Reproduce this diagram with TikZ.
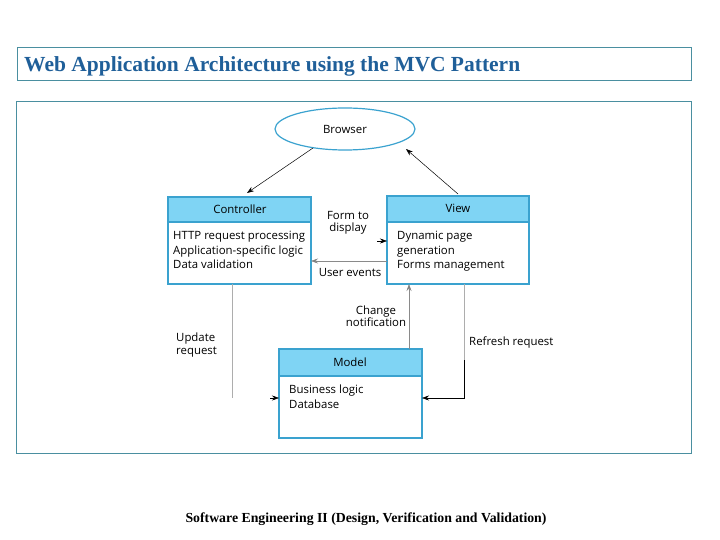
\documentclass[tikz,border=0pt]{standalone}
\usepackage{fontspec}
\setmainfont{Liberation Serif}
\newfontfamily\diagfont{Open Sans}
\usetikzlibrary{arrows.meta,shapes.geometric}
\definecolor{framecol}{HTML}{4A8FA0}
\definecolor{titlecol}{HTML}{1F5F99}
\definecolor{boxborder}{HTML}{3AA2CF}
\definecolor{headfill}{HTML}{7FD4F4}
\definecolor{linegray}{HTML}{8A8A8A}
\tikzset{
  frame/.style={draw=framecol, line width=0.8pt},
  boxbody/.style={draw=boxborder, line width=1.2pt, fill=white},
  boxhead/.style={draw=boxborder, line width=1.2pt, fill=headfill},
  headtext/.style={font=\diagfont\fontsize{11.4}{13}\selectfont, anchor=center},
  bodytext/.style={font=\diagfont\fontsize{11.4}{14.5}\selectfont, anchor=north west, align=left, inner sep=0pt},
  lbl/.style={font=\diagfont\fontsize{11.4}{12.5}\selectfont, align=center, inner sep=0pt},
  conn/.style={draw=black, line width=0.5pt, -{Stealth[length=7pt,width=5pt]}},
  gconn/.style={draw=linegray, line width=0.8pt, -{Stealth[length=7pt,width=5pt,fill=black]}},
  lconn/.style={draw=linegray!70, line width=0.6pt},
}
\begin{document}
\begin{tikzpicture}[x=1pt,y=-1pt]
\useasboundingbox (0,0) rectangle (720,540);
% title
\draw[frame] (17,47) rectangle (691,80);
\node[anchor=west, inner sep=0pt, text=titlecol, font=\bfseries\fontsize{21.5}{23}\selectfont] (title) at (24,66) {Web Application Architecture using the MVC Pattern};
% diagram frame
\draw[frame] (16,101) rectangle (691,453);
% browser
\node[ellipse, draw=boxborder, line width=1.2pt, minimum width=140pt, minimum height=42pt, font=\diagfont\fontsize{11.4}{13}\selectfont] (browser) at (345,129) {Browser};
% controller
\draw[boxbody] (168,197) rectangle (311,284);
\draw[boxhead] (168,197) rectangle (311,222);
\node[headtext] (ctrlh) at (240,209) {Controller};
\node[bodytext] (ctrlb) at (173,231) {HTTP request processing\\Application-specific logic\\Data validation};
\coordinate (ctrlE) at (311,261);
\coordinate (ctrlS) at (232,284);
\coordinate (ctrlT) at (247,193);
% view
\draw[boxbody] (387,196) rectangle (529,284);
\draw[boxhead] (387,196) rectangle (529,222);
\node[headtext] (viewh) at (458,208) {View};
\node[bodytext] (viewb) at (397,231) {Dynamic page\\generation\\Forms management};
\coordinate (viewW) at (387,261);
\coordinate (viewWa) at (387,241);
% model
\draw[boxbody] (279,349) rectangle (422,438);
\draw[boxhead] (279,349) rectangle (422,376);
\node[headtext] (modelh) at (350,362) {Model};
\node[bodytext] (modelb) at (289,385) {Business logic\\Database};
% connectors
\draw[conn] (313,148) -- (ctrlT);
\draw[conn] (458,194) -- (406,149);
\draw[gconn] (viewW) -- (ctrlE);
\draw[conn] (377,241) -- (viewWa);
\draw[lconn] (ctrlS) -- (232,398);
\draw[conn] (270,398) -- (279,398);
\draw[gconn] (409,349) -- (409,284);
\draw[lconn] (464,284) -- (464,360);
\draw[conn] (464,360) -- (464,398) -- (422,398);
% labels
\node[lbl] (l1) at (348,223) {Form to\\display};
\node[lbl] (l2) at (350,272) {User events};
\node[lbl] (l3) at (376,316) {Change\\notification};
\node[lbl, align=left, anchor=west] (l4) at (176,345) {Update\\request};
\node[lbl, anchor=west] (l5) at (469,343) {Refresh request};
% footer
\node[font=\bfseries\fontsize{13.8}{15}\selectfont, inner sep=0pt] (foot) at (366,519) {Software Engineering II (Design, Verification and Validation)};
\end{tikzpicture}
\end{document}
